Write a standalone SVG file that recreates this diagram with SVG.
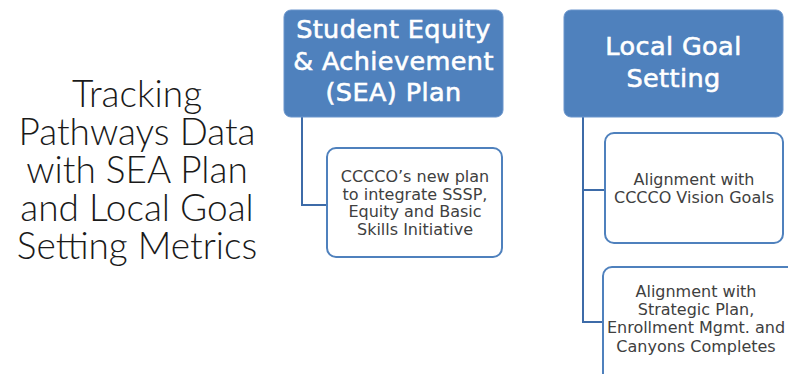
<svg xmlns="http://www.w3.org/2000/svg" width="788" height="374" viewBox="0 0 788 374">
<style>
.title{font-family:Lato,"Open Sans","Liberation Sans",sans-serif;font-weight:300;font-size:37px;fill:#1a1a1a;text-anchor:middle}
.head{fill:#4f81bd;stroke:#6a95cc;stroke-width:1}
.headt{font-family:"DejaVu Sans",sans-serif;font-size:25.5px;letter-spacing:0.4px;fill:#ffffff;stroke:#ffffff;stroke-width:0.6px;text-anchor:middle}
.sub{fill:#ffffff;stroke:#4f81bd;stroke-width:2}
.subt{font-family:"DejaVu Sans",sans-serif;font-size:16px;fill:#404040;text-anchor:middle}
.conn{fill:none;stroke:#3d6ba8;stroke-width:2}
</style>
<rect width="788" height="374" fill="#ffffff"/>
<g id="title">
<text class="title" x="137" y="107">Tracking</text>
<text class="title" x="137" y="145">Pathways Data</text>
<text class="title" x="137" y="183">with SEA Plan</text>
<text class="title" x="137" y="221">and Local Goal</text>
<text class="title" x="137" y="259">Setting Metrics</text>
</g>
<g id="connectors">
<path class="conn" d="M302,117 V205 H327"/>
<path class="conn" d="M583,117 V322 H603 M583,190 H605"/>
</g>
<g id="sea">
<rect class="head" x="284" y="10" width="219" height="107" rx="7"/>
<text class="headt" x="393.5" y="38">Student Equity</text>
<text class="headt" x="393.5" y="70">&amp; Achievement</text>
<text class="headt" x="393.5" y="101">(SEA) Plan</text>
</g>
<g id="sea-desc">
<rect class="sub" x="327" y="148" width="175" height="109" rx="9"/>
<text class="subt" x="415" y="182">CCCCO’s new plan</text>
<text class="subt" x="415" y="200">to integrate SSSP,</text>
<text class="subt" x="415" y="217">Equity and Basic</text>
<text class="subt" x="415" y="235">Skills Initiative</text>
</g>
<g id="local">
<rect class="head" x="564" y="10" width="219" height="107" rx="7"/>
<text class="headt" x="673.5" y="55">Local Goal</text>
<text class="headt" x="673.5" y="87">Setting</text>
</g>
<g id="vision">
<rect class="sub" x="605" y="133" width="178" height="110" rx="9"/>
<text class="subt" x="694" y="185">Alignment with</text>
<text class="subt" x="694" y="203">CCCCO Vision Goals</text>
</g>
<g id="strategic">
<rect class="sub" x="603" y="267" width="200" height="130" rx="9"/>
<text class="subt" x="696" y="297">Alignment with</text>
<text class="subt" x="696" y="315">Strategic Plan,</text>
<text class="subt" x="696" y="333">Enrollment Mgmt. and</text>
<text class="subt" x="696" y="352">Canyons Completes</text>
</g>
</svg>
